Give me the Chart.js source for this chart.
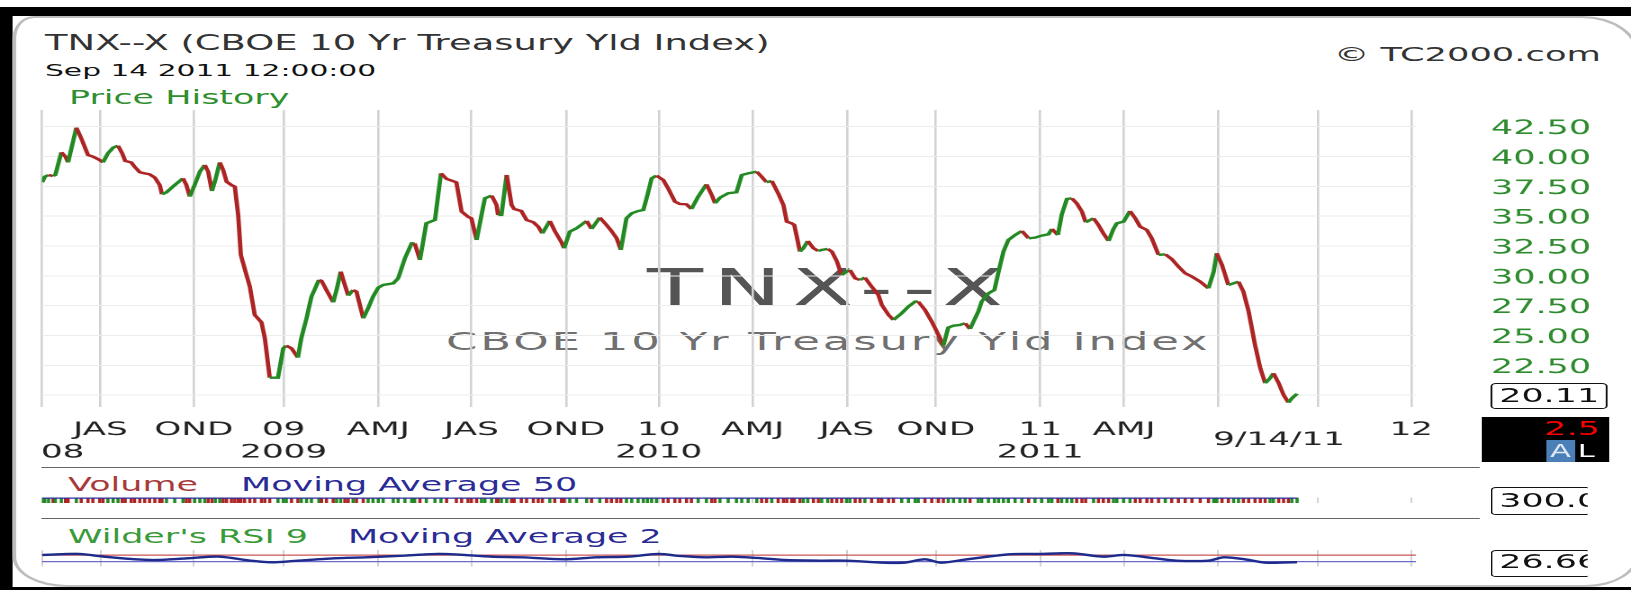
<!DOCTYPE html>
<html lang="en">
<head>
<meta charset="utf-8">
<title>TNX--X (CBOE 10 Yr Treasury Yld Index)</title>
<script src="https://cdn.jsdelivr.net/npm/chart.js@4.4.1/dist/chart.umd.min.js"></script>
<style>
  html, body { margin: 0; padding: 0; background: #fff; }
  body { width: 1631px; height: 590px; overflow: hidden; position: relative; }
  /* the source picture is a small chart stretched sideways, so lay it out at 906px and stretch it the same way */
  #stage { position: absolute; left: 0; top: 0; width: 906px; height: 590px;
           transform: scaleX(1.8002); transform-origin: 0 0;
           font-family: 'DejaVu Sans', Verdana, sans-serif; }
  .band { position: absolute; background: #000; }
  #panel { position: absolute; left: 7.2px; top: 16px; width: 904px; height: 571px; box-sizing: border-box;
           background: #fff; border: 2px solid #bdbdbd;
           border-radius: 12px 32px 30px 30px / 22px 40px 34px 30px; }
  .t { position: absolute; white-space: nowrap; line-height: 1; }
  .wrap { position: absolute; left: 0; width: 906px; }
  .sep { position: absolute; left: 22.8px; width: 799.4px; height: 1.3px; background: #666; }
  .valbox { position: absolute; left: 828.3px; box-sizing: border-box; background: #fff;
            border: 1.5px solid #111; border-radius: 3px; padding-left: 3.5px;
            font-size: 19.4px; color: #111; overflow: hidden; white-space: nowrap; }
  .open { border-right: none; border-radius: 3px 0 0 3px; }
  #flag { position: absolute; left: 822.8px; top: 417px; width: 71.6px; height: 45px; background: #000; }
</style>
</head>
<body>
<div id="stage">
  <div class="band" style="left:0;top:7px;width:906px;height:9px"></div>
  <div class="band" style="left:0;top:7px;width:7.4px;height:583px"></div>
  <div class="band" style="left:0;top:587px;width:906px;height:3px"></div>
  <div id="panel"></div>

  <div class="t" style="left:25px;top:32.7px;font-size:20.5px;color:#333">TNX--X (CBOE 10 Yr Treasury Yld Index)</div>
  <div class="t" style="left:25px;top:62.5px;font-size:16.5px;color:#111">Sep 14 2011 12:00:00</div>
  <div class="t" style="left:38.3px;top:87.6px;font-size:19.4px;color:#2f8f2f">Price History</div>
  <div class="t" style="left:741px;top:44.9px;font-size:19.6px;color:#333">© TC2000.com</div>

  <div class="t" style="left:359.4px;top:262.5px;font-size:51px;letter-spacing:5.5px;color:#555">TNX--X</div>
  <div class="t" style="left:247.8px;top:328.9px;font-size:25px;letter-spacing:1.55px;color:#707070">CBOE 10 Yr Treasury Yld Index</div>

  <div class="wrap" style="top:100px;height:370px"><canvas id="priceChart"></canvas></div>

  <div class="sep" style="top:466.5px"></div>
  <div class="t" style="left:37.8px;top:475.3px;font-size:19.4px;color:#a83a3a">Volume</div>
  <div class="t" style="left:133.9px;top:475.3px;font-size:19.4px;color:#2b2b96">Moving Average 50</div>
  <div class="wrap" style="top:494px;height:12px"><canvas id="volumeChart"></canvas></div>

  <div class="sep" style="top:517.5px"></div>
  <div class="t" style="left:37.8px;top:526.6px;font-size:19.4px;color:#3a9a3a">Wilder's RSI 9</div>
  <div class="t" style="left:193.3px;top:526.6px;font-size:19.4px;color:#2b2b96">Moving Average 2</div>
  <div class="wrap" style="top:545px;height:25px"><canvas id="rsiChart"></canvas></div>

  <div class="valbox" style="top:383px;width:64.5px;height:26px;line-height:23px">20.11</div>
  <div id="flag">
    <div class="t" style="right:5.5px;top:1.5px;font-size:19.5px;color:#f00">2.5</div>
    <div class="t" style="left:36px;top:23px;width:16.2px;height:22px;line-height:22px;text-align:center;font-size:17px;background:#4a7fb8;color:#dfe8f3">A</div>
    <div class="t" style="left:53.6px;top:23px;line-height:22px;font-size:17px;color:#fff">L</div>
  </div>
  <div class="valbox open" style="top:487px;width:53.9px;height:28px;line-height:25px">300.00</div>
  <div class="valbox open" style="top:550px;width:53.9px;height:27px;line-height:22px">26.66</div>
</div>

<script>
// weekly price turning points, x in decimal years
const priceTimes = [
  2008.354, 2008.361, 2008.371, 2008.383, 2008.389, 2008.405, 2008.416, 2008.423, 2008.445, 2008.458,
  2008.476, 2008.489, 2008.507, 2008.516, 2008.529, 2008.543, 2008.556, 2008.567, 2008.575, 2008.591,
  2008.600, 2008.614, 2008.627, 2008.640, 2008.654, 2008.667, 2008.673, 2008.685, 2008.707, 2008.729,
  2008.738, 2008.747, 2008.760, 2008.774, 2008.787, 2008.796, 2008.806, 2008.815, 2008.827, 2008.836,
  2008.845, 2008.858, 2008.867, 2008.876, 2008.883, 2008.893, 2008.907, 2008.920, 2008.938, 2008.947,
  2008.960, 2008.982, 2008.996, 2009.004, 2009.018, 2009.035, 2009.044, 2009.058, 2009.071, 2009.091,
  2009.098, 2009.111, 2009.129, 2009.138, 2009.149, 2009.160, 2009.169, 2009.182, 2009.191, 2009.209,
  2009.222, 2009.235, 2009.249, 2009.262, 2009.289, 2009.302, 2009.320, 2009.338, 2009.346, 2009.360,
  2009.377, 2009.400, 2009.416, 2009.431, 2009.457, 2009.471, 2009.488, 2009.497, 2009.511, 2009.524,
  2009.533, 2009.551, 2009.564, 2009.568, 2009.577, 2009.591, 2009.604, 2009.611, 2009.630, 2009.644,
  2009.662, 2009.675, 2009.686, 2009.706, 2009.719, 2009.737, 2009.744, 2009.759, 2009.777, 2009.804,
  2009.817, 2009.839, 2009.857, 2009.870, 2009.884, 2009.895, 2009.910, 2009.924, 2009.941, 2009.955,
  2009.966, 2009.977, 2009.990, 2010.008, 2010.021, 2010.039, 2010.052, 2010.070, 2010.083, 2010.101,
  2010.123, 2010.137, 2010.146, 2010.159, 2010.181, 2010.203, 2010.217, 2010.234, 2010.257, 2010.270,
  2010.283, 2010.297, 2010.314, 2010.328, 2010.337, 2010.350, 2010.357, 2010.372, 2010.381, 2010.393,
  2010.408, 2010.421, 2010.430, 2010.446, 2010.457, 2010.470, 2010.483, 2010.496, 2010.505, 2010.519,
  2010.532, 2010.545, 2010.563, 2010.581, 2010.590, 2010.608, 2010.621, 2010.643, 2010.661, 2010.679,
  2010.687, 2010.705, 2010.723, 2010.741, 2010.754, 2010.767, 2010.781, 2010.798, 2010.812, 2010.825,
  2010.847, 2010.856, 2010.874, 2010.890, 2010.901, 2010.914, 2010.927, 2010.945, 2010.963, 2010.981,
  2010.998, 2011.016, 2011.034, 2011.043, 2011.059, 2011.069, 2011.083, 2011.096, 2011.109, 2011.123,
  2011.133, 2011.154, 2011.167, 2011.180, 2011.194, 2011.207, 2011.216, 2011.234, 2011.251, 2011.265,
  2011.278, 2011.296, 2011.309, 2011.327, 2011.345, 2011.362, 2011.380, 2011.398, 2011.416, 2011.438,
  2011.460, 2011.474, 2011.482, 2011.496, 2011.513, 2011.527, 2011.540, 2011.553, 2011.567, 2011.584,
  2011.598, 2011.611, 2011.624, 2011.633, 2011.647, 2011.660, 2011.673, 2011.682, 2011.696
];
const price = [
  37.84, 38.31, 38.45, 38.37, 38.45, 40.35, 39.99, 39.51, 42.42, 41.53,
  40.13, 39.99, 39.71, 39.51, 40.27, 40.74, 40.91, 40.27, 39.63, 39.51,
  39.15, 38.68, 38.59, 38.51, 38.23, 37.61, 36.83, 37.00, 37.61, 38.17,
  37.61, 36.64, 37.61, 38.73, 39.29, 38.73, 37.11, 38.03, 39.51, 38.87,
  37.89, 37.61, 37.47, 35.10, 31.75, 30.63, 29.09, 26.72, 26.10, 24.76,
  21.46, 21.46, 23.92, 24.15, 23.92, 23.14, 24.76, 26.44, 28.25, 29.65,
  29.57, 28.81, 27.78, 28.81, 30.35, 29.23, 28.34, 28.81, 28.67, 26.44,
  27.28, 28.25, 29.01, 29.23, 29.37, 29.79, 31.47, 32.72, 32.72, 31.33,
  34.40, 34.68, 38.59, 38.12, 37.84, 35.38, 34.96, 34.82, 33.00, 35.10,
  36.50, 36.72, 35.94, 35.10, 35.10, 38.45, 35.94, 35.60, 35.43, 34.68,
  34.49, 34.12, 33.56, 34.60, 33.76, 32.81, 32.31, 33.70, 33.98, 34.60,
  33.93, 34.88, 34.26, 33.76, 33.14, 32.17, 34.82, 35.24, 35.43, 35.52,
  36.78, 38.17, 38.40, 38.03, 37.33, 36.22, 36.02, 35.99, 35.60, 36.64,
  37.67, 36.78, 36.08, 36.55, 36.92, 37.00, 38.45, 38.59, 38.73, 38.31,
  37.84, 37.95, 36.92, 35.94, 34.54, 34.40, 34.26, 32.03, 32.31, 32.92,
  32.31, 32.08, 32.17, 32.25, 32.03, 31.24, 30.07, 30.35, 30.49, 29.79,
  29.65, 29.85, 29.09, 28.39, 27.56, 26.72, 26.30, 26.86, 27.42, 27.84,
  27.84, 27.14, 26.16, 25.04, 24.15, 25.66, 25.82, 25.88, 26.02, 25.54,
  27.00, 27.84, 28.53, 28.81, 30.35, 32.03, 33.00, 33.42, 33.76, 33.14,
  33.20, 33.37, 33.48, 33.93, 33.42, 35.10, 36.44, 36.50, 36.08, 35.38,
  34.49, 34.82, 34.26, 33.56, 32.92, 33.93, 34.40, 34.54, 35.43, 34.82,
  34.12, 33.84, 33.14, 31.75, 31.80, 31.41, 30.77, 30.21, 29.93, 29.51,
  28.95, 30.35, 31.89, 30.91, 29.23, 29.37, 29.51, 28.67, 27.00, 24.20,
  22.25, 21.00, 21.41, 21.83, 21.00, 20.01, 19.37, 19.73, 20.11
];
// volume is flat for an index, one bar per price point
const volume = [
  300, 300, 300, 300, 300, 300, 300, 300, 300, 300,
  300, 300, 300, 300, 300, 300, 300, 300, 300, 300,
  300, 300, 300, 300, 300, 300, 300, 300, 300, 300,
  300, 300, 300, 300, 300, 300, 300, 300, 300, 300,
  300, 300, 300, 300, 300, 300, 300, 300, 300, 300,
  300, 300, 300, 300, 300, 300, 300, 300, 300, 300,
  300, 300, 300, 300, 300, 300, 300, 300, 300, 300,
  300, 300, 300, 300, 300, 300, 300, 300, 300, 300,
  300, 300, 300, 300, 300, 300, 300, 300, 300, 300,
  300, 300, 300, 300, 300, 300, 300, 300, 300, 300,
  300, 300, 300, 300, 300, 300, 300, 300, 300, 300,
  300, 300, 300, 300, 300, 300, 300, 300, 300, 300,
  300, 300, 300, 300, 300, 300, 300, 300, 300, 300,
  300, 300, 300, 300, 300, 300, 300, 300, 300, 300,
  300, 300, 300, 300, 300, 300, 300, 300, 300, 300,
  300, 300, 300, 300, 300, 300, 300, 300, 300, 300,
  300, 300, 300, 300, 300, 300, 300, 300, 300, 300,
  300, 300, 300, 300, 300, 300, 300, 300, 300, 300,
  300, 300, 300, 300, 300, 300, 300, 300, 300, 300,
  300, 300, 300, 300, 300, 300, 300, 300, 300, 300,
  300, 300, 300, 300, 300, 300, 300, 300, 300, 300,
  300, 300, 300, 300, 300, 300, 300, 300, 300, 300,
  300, 300, 300, 300, 300, 300, 300, 300, 300, 300,
  300, 300, 300, 300, 300, 300, 300, 300, 300
];
const volumeMaTimes = [2008.354, 2011.696];
const volumeMa = [300, 300];

const rsiTimes = [
  2008.354, 2008.450, 2008.519, 2008.603, 2008.659, 2008.742, 2008.826, 2008.909, 2008.965, 2009.035,
  2009.132, 2009.216, 2009.300, 2009.411, 2009.466, 2009.550, 2009.634, 2009.746, 2009.829, 2009.913,
  2009.996, 2010.052, 2010.122, 2010.191, 2010.260, 2010.331, 2010.425, 2010.496, 2010.594, 2010.649,
  2010.705, 2010.748, 2010.817, 2010.929, 2011.012, 2011.097, 2011.179, 2011.235, 2011.319, 2011.375,
  2011.459, 2011.501, 2011.557, 2011.612, 2011.696
];
const rsi = [
  72, 79, 58, 42, 41, 53, 62, 33, 25, 38,
  52, 55, 66, 79, 70, 58, 57, 42, 58, 61,
  79, 62, 55, 62, 50, 38, 35, 37, 22, 25,
  47, 22, 46, 76, 77, 82, 58, 72, 48, 35,
  37, 58, 42, 23, 26.66
];
const rsiMa = [
  70, 76, 60, 44, 40, 50, 60, 36, 26, 36,
  50, 56, 64, 76, 72, 60, 56, 44, 56, 60,
  76, 64, 56, 60, 52, 40, 36, 36, 24, 24,
  44, 24, 44, 74, 76, 80, 60, 70, 50, 36,
  36, 56, 44, 24, 27
];
const rsiLevels = [30, 70];

// axis ticks: quarter lines, the lone "08" year label and the current-date marker
const xTickTimes = [2008.3534, 2008.4085, 2008.509, 2008.758, 2008.997, 2009.249, 2009.497, 2009.749, 2009.996,
                    2010.246, 2010.497, 2010.734, 2011.012, 2011.235, 2011.486, 2011.648, 2011.752, 2012.000];
const quarterLabels = ['', '', 'JAS', 'OND', '09', 'AMJ', 'JAS', 'OND', '10', 'AMJ', 'JAS', 'OND', '11', 'AMJ', '', '', '', '12'];
const yearLabels = ['', '08', '', '', '2009', '', '', '', '2010', '', '', '', '2011', '', '', '9/14/11', '', ''];
const dateMark = '9/14/11';
const priceTicks = [20, 22.5, 25, 27.5, 30, 32.5, 35, 37.5, 40, 42.5];

Chart.defaults.font.family = "'DejaVu Sans', Verdana, sans-serif";
Chart.defaults.animation = false;

const upColor = '#238a23';
const downColor = '#ad2424';
const xMin = 2008.3534;
const xMax = 2012.0133;
const plotLeft = 23.3;
const axisRight = 119.3;

// force exact axis sizes so the three panels line up
function pinScale(width, height) {
  return s => {
    if (width !== null) s.width = width;
    if (height !== null) s.height = height;
    s.paddingLeft = s.paddingRight = s.paddingTop = s.paddingBottom = 0;
  };
}
function setTicks(values) {
  return s => { s.ticks = values.map(v => ({ value: v })); };
}
// label-only ticks get no grid line
function quarterGridColor(ctx) {
  const i = ctx.index;
  return (quarterLabels[i] === '' && yearLabels[i] !== '') ? 'rgba(0,0,0,0)' : '#d2d2d2';
}
const noPlugins = { legend: { display: false }, tooltip: { enabled: false } };

function panelX() {
  return {
    type: 'linear', bounds: 'data', min: xMin, max: xMax, offset: false,
    afterBuildTicks: setTicks(xTickTimes),
    afterFit: pinScale(null, 0),
    grid: { color: quarterGridColor, lineWidth: 1, drawTicks: false, offset: false },
    border: { display: false },
    ticks: { display: false }
  };
}

//price chart
new Chart(document.getElementById('priceChart'), {
  type: 'line',
  data: {
    datasets: [{
      data: priceTimes.map((t, i) => ({ x: t, y: price[i] })),
      borderWidth: 2.4,
      pointRadius: 0,
      tension: 0,
      borderColor: upColor,
      segment: { borderColor: c => c.p1.parsed.y < c.p0.parsed.y ? downColor : upColor }
    }]
  },
  options: {
    responsive: true,
    maintainAspectRatio: false,
    devicePixelRatio: 2,
    events: [],
    layout: { padding: { left: plotLeft, top: 10, right: 0, bottom: 0 } },
    plugins: noPlugins,
    scales: {
      x: {
        type: 'linear', bounds: 'data', min: xMin, max: xMax,
        afterBuildTicks: setTicks(xTickTimes),
        afterFit: pinScale(null, 63),
        grid: { color: quarterGridColor, lineWidth: 1.3, drawTicks: false },
        border: { display: false },
        ticks: {
          autoSkip: false, maxRotation: 0, padding: 11.6, color: '#222',
          // the date marker sits between the two label rows
          font: ctx => ({ size: 19, lineHeight: yearLabels[ctx.index] === dateMark ? 0.75 : 1.2 }),
          callback: (v, i) => [quarterLabels[i], yearLabels[i]]
        }
      },
      y: {
        position: 'right', bounds: 'data', min: 19.0, max: 43.9,
        afterBuildTicks: setTicks(priceTicks),
        afterFit: pinScale(axisRight, null),
        grid: { color: '#ececec', lineWidth: 1, drawTicks: false },
        border: { display: false },
        ticks: {
          padding: 41.6, labelOffset: 2.5, color: '#2e8b2e', font: { size: 19.4 },
          callback: v => v === 20 ? '' : v.toFixed(2)
        }
      }
    }
  }
});

//volume strip
new Chart(document.getElementById('volumeChart'), {
  type: 'bar',
  data: {
    datasets: [
      {
        type: 'line', order: 0,
        data: volumeMaTimes.map((t, i) => ({ x: t, y: volumeMa[i] })),
        borderColor: '#2c2ca0', borderWidth: 1.4, pointRadius: 0
      },
      {
        type: 'bar', order: 1,
        data: priceTimes.map((t, i) => ({ x: t, y: volume[i] })),
        backgroundColor: price.map((p, i) => (i > 0 && p < price[i - 1]) ? downColor : upColor),
        barThickness: 1.1
      }
    ]
  },
  options: {
    responsive: true,
    maintainAspectRatio: false,
    devicePixelRatio: 2,
    events: [],
    layout: { padding: { left: plotLeft, right: axisRight, top: 3.5, bottom: 3 } },
    plugins: noPlugins,
    scales: {
      x: panelX(),
      y: { display: false, min: 0, max: 330, afterFit: pinScale(0, null) }
    }
  }
});

//rsi strip
new Chart(document.getElementById('rsiChart'), {
  type: 'line',
  data: {
    datasets: [
      {
        order: 0,
        data: rsiTimes.map((t, i) => ({ x: t, y: rsiMa[i] })),
        borderColor: '#1e2b8c', borderWidth: 2.4, pointRadius: 0, tension: 0.3
      },
      {
        order: 1,
        data: rsiTimes.map((t, i) => ({ x: t, y: rsi[i] })),
        borderColor: '#3a9a3a', borderWidth: 1.2, pointRadius: 0, tension: 0.3
      }
    ]
  },
  options: {
    responsive: true,
    maintainAspectRatio: false,
    devicePixelRatio: 2,
    events: [],
    layout: { padding: { left: plotLeft, right: 0, top: 4.95, bottom: 3.3 } },
    plugins: noPlugins,
    scales: {
      x: panelX(),
      y: {
        position: 'right', bounds: 'data', min: 0, max: 100,
        afterBuildTicks: setTicks(rsiLevels),
        afterFit: pinScale(axisRight, null),
        grid: { color: c => (c.tick && c.tick.value > 50) ? '#cc5555' : '#6a6acc', lineWidth: 1.3, drawTicks: false },
        border: { display: false },
        ticks: { display: false }
      }
    }
  }
});
</script>
</body>
</html>
